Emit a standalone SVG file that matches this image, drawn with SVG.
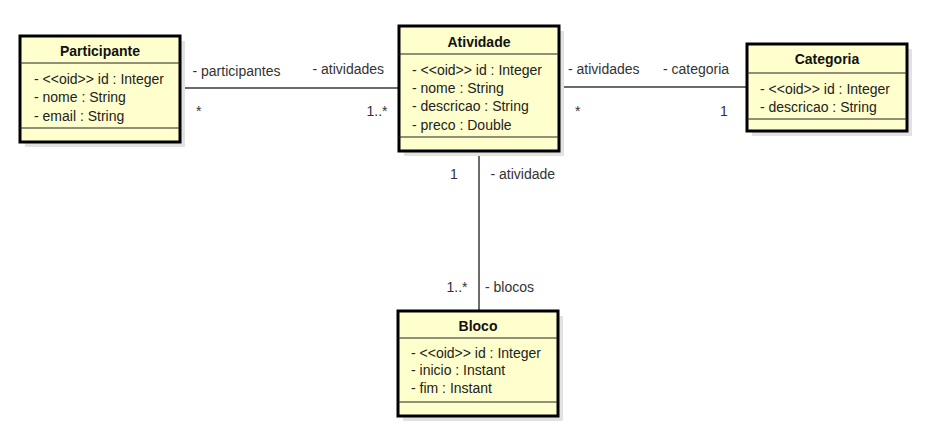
<svg xmlns="http://www.w3.org/2000/svg" width="948" height="431" viewBox="0 0 948 431">
<style>
.shadow{fill:#e2e2e2;stroke:none}
.box{fill:#ffffce;stroke:#000;stroke-width:3}
.sep{stroke:#222;stroke-width:1}
.title{font-family:"Liberation Sans",Arial,sans-serif;font-size:14px;font-weight:bold;fill:#111;text-anchor:middle}
.attr{font-family:"Liberation Sans",Arial,sans-serif;font-size:14px;fill:#222}
.lbl{font-family:"Liberation Sans",Arial,sans-serif;font-size:14px;fill:#333}
.conn{stroke:#3a3a3a;stroke-width:1.5;fill:none}
</style>
<rect width="948" height="431" fill="#fff"/>
<g id="connectors">
<line class="conn" x1="180" y1="88" x2="399" y2="88"/>
<line class="conn" x1="559" y1="87" x2="747" y2="87"/>
<line class="conn" x1="479" y1="151" x2="479" y2="311"/>
<text class="lbl" x="192.5" y="75.5">- participantes</text>
<text class="lbl" x="312.5" y="74">- atividades</text>
<text class="lbl" x="196" y="116">*</text>
<text class="lbl" x="366.5" y="116">1..*</text>
<text class="lbl" x="568" y="74">- atividades</text>
<text class="lbl" x="663" y="74">- categoria</text>
<text class="lbl" x="575" y="116">*</text>
<text class="lbl" x="720" y="116">1</text>
<text class="lbl" x="450" y="179">1</text>
<text class="lbl" x="490.5" y="179">- atividade</text>
<text class="lbl" x="446.5" y="292">1..*</text>
<text class="lbl" x="485" y="292">- blocos</text>
</g>
<g id="participante">
<rect class="shadow" x="25" y="41" width="160" height="106"/>
<rect class="box" x="20" y="36" width="160" height="106"/>
<line class="sep" x1="20" y1="63" x2="180" y2="63"/>
<line class="sep" x1="20" y1="128" x2="180" y2="128"/>
<text class="title" x="100" y="56">Participante</text>
<text class="attr" x="34" y="84">- &lt;&lt;oid&gt;&gt; id : Integer</text>
<text class="attr" x="34" y="102.3">- nome : String</text>
<text class="attr" x="34" y="120.6">- email : String</text>
</g>
<g id="atividade">
<rect class="shadow" x="404" y="31" width="160" height="125"/>
<rect class="box" x="399" y="26" width="160" height="125"/>
<line class="sep" x1="399" y1="54" x2="559" y2="54"/>
<line class="sep" x1="399" y1="137" x2="559" y2="137"/>
<text class="title" x="479" y="46.5">Atividade</text>
<text class="attr" x="412" y="75">- &lt;&lt;oid&gt;&gt; id : Integer</text>
<text class="attr" x="412" y="93.2">- nome : String</text>
<text class="attr" x="412" y="111.4">- descricao : String</text>
<text class="attr" x="412" y="129.6">- preco : Double</text>
</g>
<g id="categoria">
<rect class="shadow" x="752" y="49" width="160" height="87"/>
<rect class="box" x="747" y="44" width="160" height="87"/>
<line class="sep" x1="747" y1="73" x2="907" y2="73"/>
<line class="sep" x1="747" y1="119" x2="907" y2="119"/>
<text class="title" x="827" y="64.3">Categoria</text>
<text class="attr" x="760" y="93.5">- &lt;&lt;oid&gt;&gt; id : Integer</text>
<text class="attr" x="760" y="111.5">- descricao : String</text>
</g>
<g id="bloco">
<rect class="shadow" x="403" y="316" width="160" height="105"/>
<rect class="box" x="398" y="311" width="160" height="105"/>
<line class="sep" x1="398" y1="338" x2="558" y2="338"/>
<line class="sep" x1="398" y1="402" x2="558" y2="402"/>
<text class="title" x="478" y="330.5">Bloco</text>
<text class="attr" x="411" y="357.5">- &lt;&lt;oid&gt;&gt; id : Integer</text>
<text class="attr" x="411" y="375.3">- inicio : Instant</text>
<text class="attr" x="411" y="393">- fim : Instant</text>
</g>
</svg>
